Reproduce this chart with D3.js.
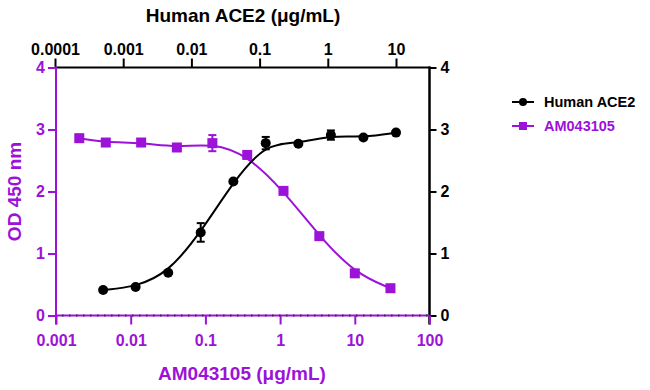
<!DOCTYPE html>
<html>
<head>
<meta charset="utf-8">
<script src="https://cdn.jsdelivr.net/npm/d3@7"></script>
<style>
  body { margin: 0; background: #fff; }
  text { font-family: "Liberation Sans", Arial, sans-serif; font-weight: bold; }
</style>
</head>
<body>
<div id="chart"></div>
<script>
// data
var ace2Conc = [0.000508, 0.00152, 0.00457, 0.0137, 0.0412, 0.123, 0.370, 1.11, 3.33, 10];
var ace2OD = [0.41, 0.46, 0.69, 1.34, 2.16, 2.78, 2.77, 2.91, 2.87, 2.95];
var ace2Err = [0, 0, 0, 0.15, 0, 0.10, 0, 0.075, 0, 0];

var amConc = [0.00205, 0.00464, 0.0138, 0.0415, 0.124, 0.363, 1.11, 3.35, 10, 30];
var amOD = [2.86, 2.79, 2.79, 2.71, 2.78, 2.59, 2.01, 1.28, 0.68, 0.44];
var amErr = [0, 0, 0, 0, 0.13, 0, 0, 0, 0, 0];

var bottomTicks = [0.001, 0.01, 0.1, 1, 10, 100];
var topTicks = [0.0001, 0.001, 0.01, 0.1, 1, 10];
var yTicks = [0, 1, 2, 3, 4];

var purple = "#9c12d9";
var black = "#000";

var svgWidth = 650;
var svgHeight = 390;

var plot = { left: 56, right: 429.5, top: 67.5, bottom: 315.5 };

var svg = d3.select("#chart")
    .append("svg")
    .attr("width", svgWidth)
    .attr("height", svgHeight);

// scales
var xBottom = d3.scaleLog().domain([0.001, 100]).range([plot.left, plot.right]);
var xTop = d3.scaleLog().domain([0.0001, 10]).range([55, 396]);
var yScale = d3.scaleLinear().domain([0, 4]).range([plot.bottom, plot.top]);

function fmt(d) { return String(d); }

// top axis (Human ACE2)
var topAxis = svg.append("g")
    .attr("transform", `translate(0, ${plot.top})`)
    .call(d3.axisTop(xTop).tickValues(topTicks).tickFormat(fmt).tickSize(9).tickSizeOuter(0));
topAxis.select(".domain").remove();
topAxis.selectAll("line").attr("stroke", black).attr("stroke-width", 2);
topAxis.selectAll("text").attr("fill", black).style("font-size", "16px").attr("dy", "-0.05em");
svg.append("line")
    .attr("x1", 55).attr("x2", plot.right + 1)
    .attr("y1", plot.top).attr("y2", plot.top)
    .attr("stroke", black).attr("stroke-width", 2);

// right axis (black)
var rightAxis = svg.append("g")
    .attr("transform", `translate(${plot.right}, 0)`)
    .call(d3.axisRight(yScale).tickValues(yTicks).tickFormat(fmt).tickSize(7).tickSizeOuter(0));
rightAxis.select(".domain").remove();
rightAxis.selectAll("line").attr("stroke", black).attr("stroke-width", 2);
rightAxis.selectAll("text").attr("fill", black).style("font-size", "16px").attr("x", 11);
svg.append("line")
    .attr("x1", plot.right).attr("x2", plot.right)
    .attr("y1", plot.top - 1).attr("y2", plot.bottom + 9)
    .attr("stroke", black).attr("stroke-width", 2.5);

// bottom axis (AM043105)
var bottomAxis = svg.append("g")
    .attr("transform", `translate(0, ${plot.bottom})`)
    .call(d3.axisBottom(xBottom).tickValues(bottomTicks).tickFormat(fmt).tickSize(9).tickSizeOuter(0));
bottomAxis.select(".domain").remove();
bottomAxis.selectAll("line").attr("stroke", purple).attr("stroke-width", 2);
bottomAxis.selectAll("text").attr("fill", purple).style("font-size", "16px").attr("dy", "1.15em");
svg.append("line")
    .attr("x1", plot.left).attr("x2", plot.right)
    .attr("y1", plot.bottom).attr("y2", plot.bottom)
    .attr("stroke", purple).attr("stroke-width", 2);
svg.append("line")
    .attr("x1", plot.left + 6).attr("x2", plot.right)
    .attr("y1", plot.bottom).attr("y2", plot.bottom)
    .attr("stroke", "#333").attr("stroke-width", 2)
    .attr("stroke-dasharray", "1.5,5.5");

// left axis (purple)
var leftAxis = svg.append("g")
    .attr("transform", `translate(${plot.left}, 0)`)
    .call(d3.axisLeft(yScale).tickValues(yTicks).tickFormat(fmt).tickSize(8).tickSizeOuter(0));
leftAxis.select(".domain").remove();
leftAxis.selectAll("line").attr("stroke", purple).attr("stroke-width", 2);
leftAxis.selectAll("text").attr("fill", purple).style("font-size", "16px").attr("x", -11);
svg.append("line")
    .attr("x1", plot.left).attr("x2", plot.left)
    .attr("y1", plot.top - 1).attr("y2", plot.bottom + 9)
    .attr("stroke", purple).attr("stroke-width", 2);

// axis titles
svg.append("text")
    .attr("x", 243).attr("y", 22)
    .attr("text-anchor", "middle")
    .attr("fill", black)
    .style("font-size", "19px")
    .text("Human ACE2 (\u03bcg/mL)");

svg.append("text")
    .attr("x", 242).attr("y", 380)
    .attr("text-anchor", "middle")
    .attr("fill", purple)
    .style("font-size", "19px")
    .text("AM043105 (\u03bcg/mL)");

svg.append("text")
    .attr("transform", `translate(21, ${(plot.top + plot.bottom) / 2}) rotate(-90)`)
    .attr("text-anchor", "middle")
    .attr("fill", purple)
    .style("font-size", "19px")
    .text("OD 450 nm");

// series
var ace2Data = ace2Conc.map((c, i) => ({ x: c, y: ace2OD[i], e: ace2Err[i] }));
var amData = amConc.map((c, i) => ({ x: c, y: amOD[i], e: amErr[i] }));

var chartGroup = svg.append("g");

function drawSeries(data, xs, color, shape) {
    var line = d3.line()
        .x(d => xs(d.x))
        .y(d => yScale(d.y))
        .curve(d3.curveBasis);

    chartGroup.append("path")
        .datum(data)
        .attr("fill", "none")
        .attr("stroke", color)
        .attr("stroke-width", 2)
        .attr("d", line);

    // error bars
    var errs = data.filter(d => d.e > 0);
    var eg = chartGroup.selectAll(null).data(errs).enter().append("g")
        .attr("stroke", color).attr("stroke-width", 2);
    eg.append("line")
        .attr("x1", d => xs(d.x)).attr("x2", d => xs(d.x))
        .attr("y1", d => yScale(d.y + d.e)).attr("y2", d => yScale(d.y - d.e));
    eg.append("line")
        .attr("x1", d => xs(d.x) - 4).attr("x2", d => xs(d.x) + 4)
        .attr("y1", d => yScale(d.y + d.e)).attr("y2", d => yScale(d.y + d.e));
    eg.append("line")
        .attr("x1", d => xs(d.x) - 4).attr("x2", d => xs(d.x) + 4)
        .attr("y1", d => yScale(d.y - d.e)).attr("y2", d => yScale(d.y - d.e));

    if (shape === "circle") {
        chartGroup.selectAll(null).data(data).enter().append("circle")
            .attr("cx", d => xs(d.x))
            .attr("cy", d => yScale(d.y))
            .attr("r", 5)
            .attr("fill", color);
    } else {
        chartGroup.selectAll(null).data(data).enter().append("rect")
            .attr("x", d => xs(d.x) - 5)
            .attr("y", d => yScale(d.y) - 5)
            .attr("width", 10)
            .attr("height", 10)
            .attr("fill", color);
    }
}

drawSeries(amData, xBottom, purple, "square");
drawSeries(ace2Data, xTop, black, "circle");

// legend
var legend = svg.append("g").attr("transform", "translate(512, 102)");
legend.append("line").attr("x1", 0).attr("x2", 22).attr("y1", 0).attr("y2", 0)
    .attr("stroke", black).attr("stroke-width", 2);
legend.append("circle").attr("cx", 11).attr("cy", 0).attr("r", 4).attr("fill", black);
legend.append("text").attr("x", 32).attr("y", 5).attr("fill", black)
    .style("font-size", "14.5px").text("Human ACE2");

legend.append("line").attr("x1", 0).attr("x2", 22).attr("y1", 24).attr("y2", 24)
    .attr("stroke", purple).attr("stroke-width", 2);
legend.append("rect").attr("x", 7).attr("y", 20).attr("width", 8).attr("height", 8).attr("fill", purple);
legend.append("text").attr("x", 32).attr("y", 29).attr("fill", purple)
    .style("font-size", "14.5px").text("AM043105");
</script>
</body>
</html>
